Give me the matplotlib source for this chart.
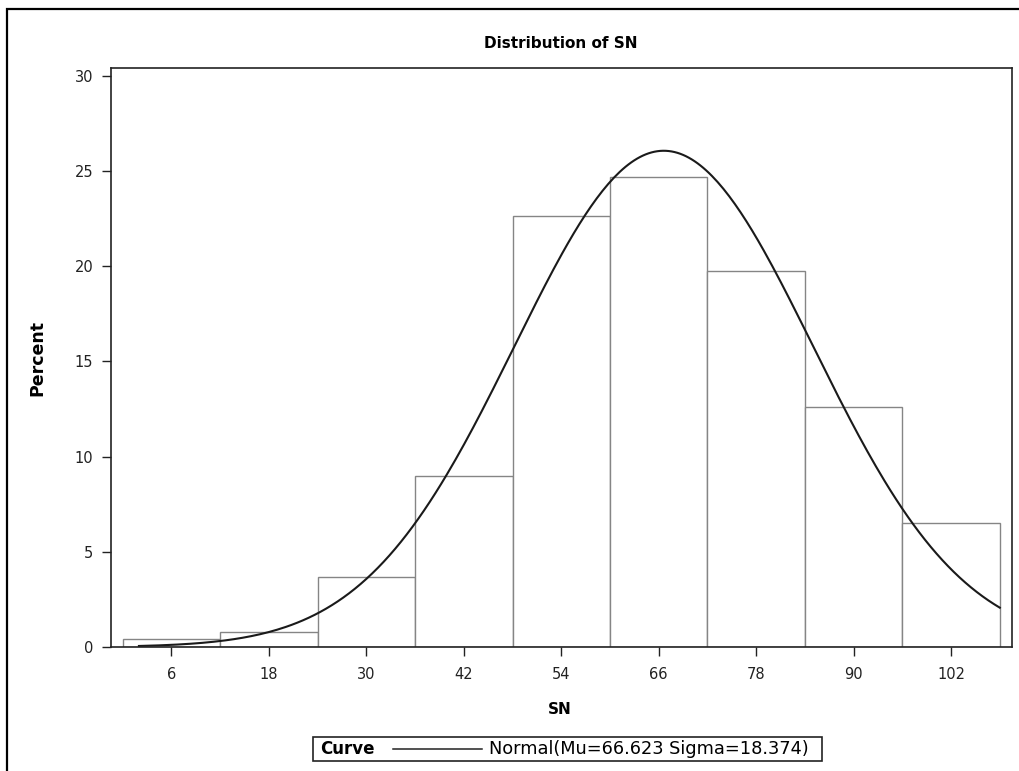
import numpy as np
import matplotlib.pyplot as plt
from matplotlib.patches import Rectangle
from matplotlib.lines import Line2D

# Histograma de SN (porcentaje por clase, ancho 12)
bin_mids = [6, 18, 30, 42, 54, 66, 78, 90, 102]
percent = [0.44, 0.79, 3.66, 8.99, 22.65, 24.68, 19.73, 12.6, 6.5]
bin_width = 12

# Curva normal ajustada (parametros de la leyenda)
mu = 66.623
sigma = 18.374
curve_min, curve_max = 2, 108

y_ticks = [0, 5, 10, 15, 20, 25, 30]

W, H = 1019, 771
fig = plt.figure(figsize=(W / 100, H / 100), dpi=100)
ax = fig.add_axes([110.5 / W, 1 - 647 / H, (1012 - 110.5) / W, (647 - 68) / H])

# Barras
ax.bar(bin_mids, percent, width=bin_width, facecolor='white',
       edgecolor='#858585', linewidth=1.0, zorder=1)

# Curva normal escalada a porcentaje
xs = np.linspace(curve_min, curve_max, 300)
ys = 100 * bin_width * np.exp(-0.5 * ((xs - mu) / sigma) ** 2) / (sigma * np.sqrt(2 * np.pi))
ax.plot(xs, ys, color='#1a1a1a', lw=1.5, zorder=2)

ax.set_xlim(-1.5, 109.5)
ax.set_ylim(0, 30.4)
ax.set_xticks(bin_mids)
ax.set_yticks(y_ticks)
ax.tick_params(axis='both', length=6.5, width=1, labelsize=10.5, colors='#222222')
ax.tick_params(axis='x', pad=8)
ax.tick_params(axis='y', pad=6)
for sp in ax.spines.values():
    sp.set_linewidth(1.2)
    sp.set_color('#222222')

# Textos
fig.text(0.55, 1 - 44 / H, 'Distribution of SN', ha='center', va='center',
         fontsize=11, fontweight='bold')
fig.text(560 / W, 1 - 710 / H, 'SN', ha='center', va='center',
         fontsize=11, fontweight='bold')
fig.text(37 / W, 1 - 358 / H, 'Percent', ha='center', va='center',
         fontsize=12.5, fontweight='bold', rotation=90)

# Leyenda manual
fig.add_artist(Rectangle((313 / W, 1 - 761 / H), 509 / W, 24 / H, fill=False,
                         lw=1.2, edgecolor='#222222', transform=fig.transFigure))
fig.text(320 / W, 1 - 749 / H, 'Curve', ha='left', va='center',
         fontsize=12, fontweight='bold')
fig.add_artist(Line2D([393 / W, 482 / W], [1 - 749 / H, 1 - 749 / H],
                      color='#222222', lw=1.1, transform=fig.transFigure))
fig.text(489 / W, 1 - 749 / H, 'Normal(Mu=66.623 Sigma=18.374)', ha='left',
         va='center', fontsize=12.8)

# Marco exterior
fig.add_artist(Rectangle((7 / W, -0.1), 1.5, 1 - 9 / H + 0.1, fill=False,
                         lw=1.6, edgecolor='black', transform=fig.transFigure))

fig.savefig('out.png', dpi=100)
